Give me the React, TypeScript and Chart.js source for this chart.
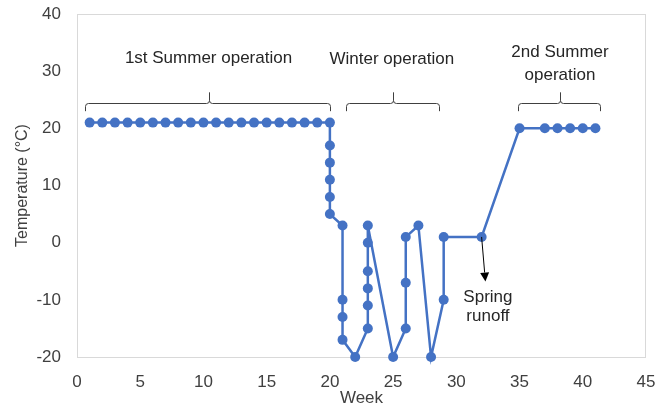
import React, { useEffect, useRef } from "react";
import { Chart, registerables } from "chart.js";

Chart.register(...registerables);

// Data
const weeks = [
  1, 2, 3, 4, 5, 6, 7, 8, 9, 10, 11, 12, 13, 14, 15, 16, 17, 18, 19, 20,
  20, 20, 20, 20, 20,
  21, 21, 21, 21,
  22,
  23, 23, 23, 23, 23, 23,
  25,
  26, 26, 26,
  27,
  28,
  29, 29,
  32,
  35,
  37, 38, 39, 40, 41,
];
const temps = [
  21, 21, 21, 21, 21, 21, 21, 21, 21, 21, 21, 21, 21, 21, 21, 21, 21, 21, 21, 21,
  17, 14, 11, 8, 5,
  3, -10, -13, -17,
  -20,
  -15, -11, -8, -5, 0, 3,
  -20,
  -15, -7, 1,
  3,
  -20,
  -10, 1,
  1,
  20,
  20, 20, 20, 20, 20,
];

const xTicks = { min: 0, max: 45, step: 5 };
const yTicks = { min: -20, max: 40, step: 10 };

// Annotations (in data units)
const phaseLabels = ["1st Summer operation", "Winter operation", "2nd Summer|operation"];
const phaseLabelX = [10.4, 24.9, 38.2];
const phaseLabelY = [32.3, 32.0, 31.3];
const bracketStart = [0.6, 21.3, 34.9];
const bracketEnd = [20.0, 28.6, 41.4];
const bracketMid = [10.4, 25.0, 38.2];
const bracketY = 24.35;
const bracketEndY = 23.0;
const bracketTipY = 26.3;
const runoffText = ["Spring", "runoff"];
const runoffFrom = { x: 32, y: 1 };
const runoffTo = { x: 32.3, y: -6.8 };
const runoffTextX = 32.5;
const runoffTextY = [-9.6, -12.9];

const FONT = '"Liberation Sans", Arial, sans-serif';
const BLUE = "#4472C4";

const annotPlugin = {
  id: "annot",
  beforeDatasetsDraw(chart: any) {
    const { ctx, chartArea: a } = chart;
    ctx.save();
    ctx.strokeStyle = "#d9d9d9";
    ctx.lineWidth = 1;
    ctx.strokeRect(a.left + 0.5, a.top + 0.5, a.right - a.left - 1, a.bottom - a.top);
    ctx.restore();
  },
  afterDatasetsDraw(chart: any) {
    const { ctx } = chart;
    const xs = chart.scales.x;
    const ys = chart.scales.y;
    const X = (v: number) => xs.getPixelForValue(v);
    const Y = (v: number) => ys.getPixelForValue(v);
    ctx.save();
    // brackets
    ctx.strokeStyle = "#404040";
    ctx.lineWidth = 1;
    for (let i = 0; i < bracketStart.length; i++) {
      const x0 = Math.round(X(bracketStart[i])) + 0.5;
      const x1 = Math.round(X(bracketEnd[i])) + 0.5;
      const xm = Math.round(X(bracketMid[i])) + 0.5;
      const y = Math.round(Y(bracketY)) + 0.5;
      const ye = Y(bracketEndY);
      const yt = Y(bracketTipY);
      const r = 3;
      ctx.beginPath();
      ctx.moveTo(x0, ye);
      ctx.lineTo(x0, y + r);
      ctx.quadraticCurveTo(x0, y, x0 + r, y);
      ctx.lineTo(xm - r, y);
      ctx.quadraticCurveTo(xm, y, xm, y - r);
      ctx.lineTo(xm, yt);
      ctx.moveTo(xm, y - r);
      ctx.quadraticCurveTo(xm, y, xm + r, y);
      ctx.lineTo(x1 - r, y);
      ctx.quadraticCurveTo(x1, y, x1, y + r);
      ctx.lineTo(x1, ye);
      ctx.stroke();
    }
    // phase labels
    ctx.fillStyle = "#262626";
    ctx.font = `17px ${FONT}`;
    ctx.textAlign = "center";
    ctx.textBaseline = "middle";
    for (let i = 0; i < phaseLabels.length; i++) {
      const lines = phaseLabels[i].split("|");
      if (lines.length === 1) {
        ctx.fillText(lines[0], X(phaseLabelX[i]), Y(phaseLabelY[i]));
      } else {
        const yc = Y(phaseLabelY[i]);
        ctx.fillText(lines[0], X(phaseLabelX[i]), yc - 11.5);
        ctx.fillText(lines[1], X(phaseLabelX[i]), yc + 11.5);
      }
    }
    // runoff arrow
    const ax0 = X(runoffFrom.x), ay0 = Y(runoffFrom.y);
    const ax1 = X(runoffTo.x), ay1 = Y(runoffTo.y);
    const ang = Math.atan2(ay1 - ay0, ax1 - ax0);
    const hl = 9, hw = 4.5;
    const bx = ax1 - hl * Math.cos(ang), by = ay1 - hl * Math.sin(ang);
    ctx.strokeStyle = "#000";
    ctx.lineWidth = 1;
    ctx.beginPath();
    ctx.moveTo(ax0, ay0);
    ctx.lineTo(bx, by);
    ctx.stroke();
    ctx.fillStyle = "#000";
    ctx.beginPath();
    ctx.moveTo(ax1, ay1);
    ctx.lineTo(bx + hw * Math.sin(ang), by - hw * Math.cos(ang));
    ctx.lineTo(bx - hw * Math.sin(ang), by + hw * Math.cos(ang));
    ctx.closePath();
    ctx.fill();
    ctx.fillStyle = "#262626";
    ctx.font = `17px ${FONT}`;
    for (let i = 0; i < runoffText.length; i++) {
      ctx.fillText(runoffText[i], X(runoffTextX), Y(runoffTextY[i]));
    }
    ctx.restore();
  },
};

export default function App() {
  const ref = useRef<HTMLCanvasElement>(null);
  useEffect(() => {
    if (!ref.current) return;
    const points = weeks.map((w, i) => ({ x: w, y: temps[i] }));
    const chart = new Chart(ref.current, {
      type: "scatter",
      data: {
        datasets: [
          {
            data: points,
            showLine: true,
            borderColor: BLUE,
            backgroundColor: BLUE,
            borderWidth: 2.5,
            pointRadius: 5,
            pointBorderWidth: 0,
            pointBackgroundColor: BLUE,
            clip: false as any,
          },
        ],
      },
      options: {
        responsive: false,
        animation: false,
        layout: { padding: { top: 14, right: 9, left: 0, bottom: 0 } },
        plugins: { legend: { display: false }, tooltip: { enabled: false } },
        scales: {
          x: {
            type: "linear",
            min: xTicks.min,
            max: xTicks.max,
            grid: { display: false, drawTicks: false },
            border: { display: false },
            ticks: { stepSize: xTicks.step, padding: 15, color: "#404040", font: { family: FONT, size: 17 } },
            title: { display: true, text: "Week", color: "#404040", font: { family: FONT, size: 17 }, padding: { top: 0, bottom: -2 } },
            afterFit: (s: any) => { s.height = 50; s.paddingLeft = 0; s.paddingRight = 0; },
          },
          y: {
            type: "linear",
            min: yTicks.min,
            max: yTicks.max,
            grid: { display: false, drawTicks: false },
            border: { display: false },
            ticks: { stepSize: yTicks.step, padding: 16, color: "#404040", font: { family: FONT, size: 17 } },
            title: { display: true, text: "Temperature (°C)", color: "#404040", font: { family: FONT, size: 16 }, padding: { top: 13, bottom: 0 } },
            afterFit: (s: any) => { s.width = 77; s.paddingTop = 0; s.paddingBottom = 0; },
          },
        },
      },
      plugins: [annotPlugin],
    });
    return () => chart.destroy();
  }, []);
  return (
    <canvas
      ref={ref}
      width={655}
      height={407}
      style={{ position: "fixed", left: 0, top: 0, width: 655, height: 407, display: "block", background: "#fff" }}
    />
  );
}
